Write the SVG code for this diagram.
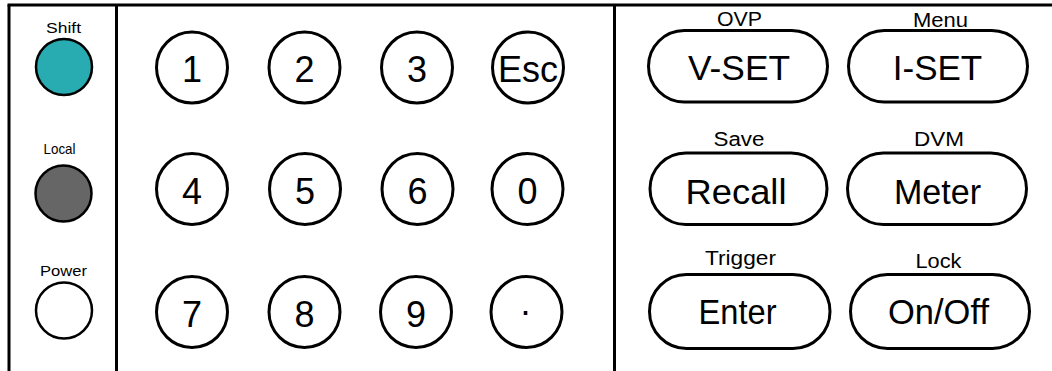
<svg xmlns="http://www.w3.org/2000/svg" width="1052" height="371" viewBox="0 0 1052 371">
<style>
  .frame { stroke: #000; stroke-width: 3; fill: none; }
  .key { stroke: #000; stroke-width: 3; fill: #fff; }
  .t { font-family: "Liberation Sans", Arial, Helvetica, sans-serif; fill: #000; text-anchor: middle; }
  .small { font-size: 15px; }
  .sub { font-size: 20px; }
  .num { font-size: 36px; }
  .main { font-size: 35px; }
</style>
<rect x="0" y="0" width="1052" height="371" fill="#fff"/>
<g id="frame">
  <line class="frame" x1="7.5" y1="5" x2="1052" y2="5"/>
  <line class="frame" x1="9" y1="5" x2="9" y2="371"/>
  <line class="frame" x1="116.5" y1="5" x2="116.5" y2="371"/>
  <line class="frame" x1="614.5" y1="5" x2="614.5" y2="371"/>
</g>
<g id="connectors"></g>

<g id="shift">
  <text class="t small" x="63.5" y="33" textLength="35" lengthAdjust="spacingAndGlyphs">Shift</text>
  <circle cx="64" cy="67" r="28" fill="#28abb1" stroke="#000" stroke-width="2.5"/>
</g>
<g id="local">
  <text class="t small" x="59.5" y="154" textLength="32" lengthAdjust="spacingAndGlyphs">Local</text>
  <circle cx="63.5" cy="193.5" r="28" fill="#666666" stroke="#000" stroke-width="2.5"/>
</g>
<g id="power">
  <text class="t small" x="63.5" y="275.5" textLength="47" lengthAdjust="spacingAndGlyphs">Power</text>
  <circle cx="64" cy="310.5" r="28" fill="#fff" stroke="#000" stroke-width="2.5"/>
</g>

<g id="key-1"><circle class="key" cx="192" cy="67.5" r="35.5"/><text class="t num" x="192" y="82">1</text></g>
<g id="key-2"><circle class="key" cx="304.5" cy="67.5" r="35.5"/><text class="t num" x="304.5" y="82">2</text></g>
<g id="key-3"><circle class="key" cx="417" cy="67.5" r="35.5"/><text class="t num" x="417" y="82">3</text></g>
<g id="key-esc"><circle class="key" cx="528" cy="67.5" r="35.5"/><text class="t num" x="528" y="82">Esc</text></g>

<g id="key-4"><circle class="key" cx="192" cy="189" r="35.5"/><text class="t num" x="192" y="204">4</text></g>
<g id="key-5"><circle class="key" cx="305" cy="189" r="35.5"/><text class="t num" x="305" y="204">5</text></g>
<g id="key-6"><circle class="key" cx="417.5" cy="189" r="35.5"/><text class="t num" x="417.5" y="204">6</text></g>
<g id="key-0"><circle class="key" cx="527.5" cy="189" r="35.5"/><text class="t num" x="527.5" y="204">0</text></g>

<g id="key-7"><circle class="key" cx="192" cy="312" r="35.5"/><text class="t num" x="192" y="326.5">7</text></g>
<g id="key-8"><circle class="key" cx="304.5" cy="312" r="35.5"/><text class="t num" x="304.5" y="326.5">8</text></g>
<g id="key-9"><circle class="key" cx="416" cy="312" r="35.5"/><text class="t num" x="416" y="326.5">9</text></g>
<g id="key-dot"><circle class="key" cx="526.5" cy="312" r="35.5"/><text class="t num" x="525.5" y="322.5">·</text></g>

<g id="vset">
  <text class="t sub" x="739.5" y="26" textLength="45" lengthAdjust="spacingAndGlyphs">OVP</text>
  <rect class="key" x="648.5" y="30.5" width="179" height="71.5" rx="35.75"/>
  <text class="t main" x="739" y="80" textLength="102" lengthAdjust="spacingAndGlyphs">V-SET</text>
</g>
<g id="iset">
  <text class="t sub" x="940.5" y="26.5" textLength="55" lengthAdjust="spacingAndGlyphs">Menu</text>
  <rect class="key" x="848.5" y="30.5" width="179" height="71.5" rx="35.75"/>
  <text class="t main" x="937.5" y="80">I-SET</text>
</g>
<g id="recall">
  <text class="t sub" x="739" y="146" textLength="51" lengthAdjust="spacingAndGlyphs">Save</text>
  <rect class="key" x="650" y="153" width="177" height="71.5" rx="35.75"/>
  <text class="t main" x="736" y="203.5" textLength="101" lengthAdjust="spacingAndGlyphs">Recall</text>
</g>
<g id="meter">
  <text class="t sub" x="939" y="146" textLength="50" lengthAdjust="spacingAndGlyphs">DVM</text>
  <rect class="key" x="847.5" y="153" width="179" height="71.5" rx="35.75"/>
  <text class="t main" x="937.5" y="203.5" textLength="87" lengthAdjust="spacingAndGlyphs">Meter</text>
</g>
<g id="enter">
  <text class="t sub" x="740.5" y="265" textLength="71" lengthAdjust="spacingAndGlyphs">Trigger</text>
  <rect class="key" x="649.5" y="274.5" width="180.5" height="74" rx="37"/>
  <text class="t main" x="737.5" y="323.5" textLength="78" lengthAdjust="spacingAndGlyphs">Enter</text>
</g>
<g id="onoff">
  <text class="t sub" x="938.5" y="268" textLength="46" lengthAdjust="spacingAndGlyphs">Lock</text>
  <rect class="key" x="850.5" y="274.5" width="179" height="74" rx="37"/>
  <text class="t main" x="938.5" y="323.5" textLength="101" lengthAdjust="spacingAndGlyphs">On/Off</text>
</g>
</svg>
